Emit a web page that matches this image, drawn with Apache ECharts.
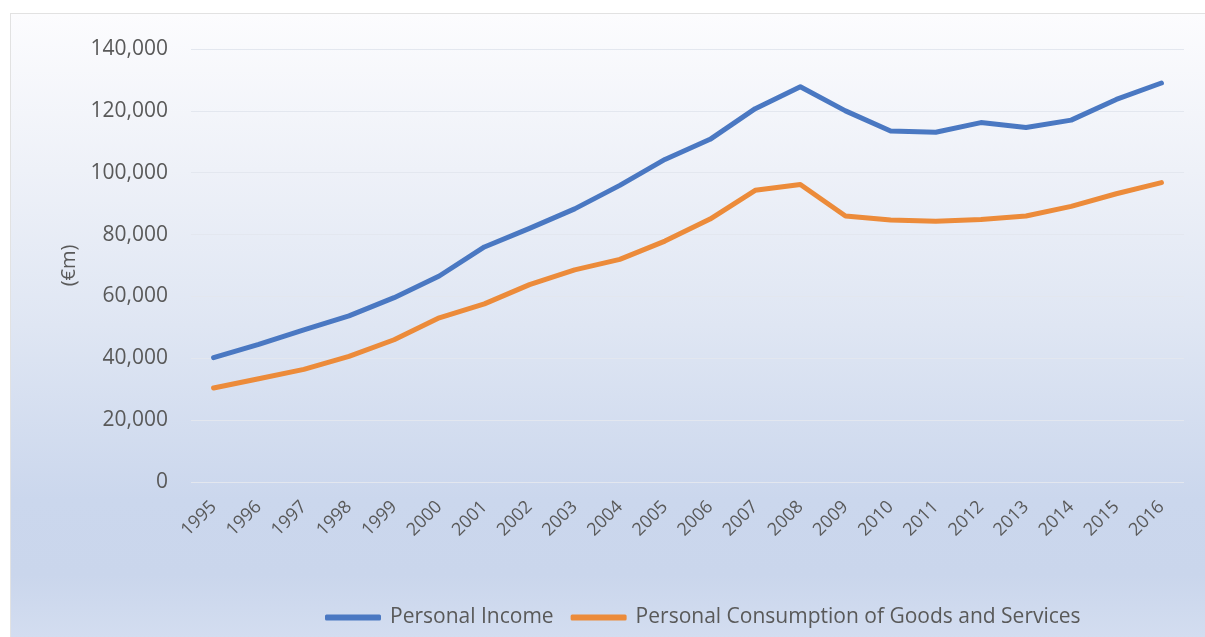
<!DOCTYPE html>
<html>
<head>
<meta charset="utf-8">
<script src="https://cdn.jsdelivr.net/npm/echarts@6/dist/echarts.min.js"></script>
<style>
html,body{margin:0;padding:0;background:#ffffff;width:1205px;height:637px;overflow:hidden;}
#box{position:absolute;left:10px;top:13px;width:1195px;height:624px;
background:linear-gradient(to bottom,#fcfcfe 0%,#eef1f8 25%,#dfe6f3 50%,#cbd7ed 78%,#cad6ec 90%,#d3ddf0 100%);
border-top:1px solid #e2e2e2;border-left:1px solid #e2e2e2;box-sizing:border-box;}
#chart{width:100%;height:100%;}
</style>
</head>
<body>
<div id="box"><div id="chart"></div></div>
<script>
var years = ['1995','1996','1997','1998','1999','2000','2001','2002','2003','2004','2005','2006','2007','2008','2009','2010','2011','2012','2013','2014','2015','2016'];
var personalIncome = [40200,44500,49200,53700,59600,66600,76000,82000,88300,95900,104300,110800,120700,127800,120000,113500,113100,116200,114600,117000,123700,129000];
var personalConsumption = [30400,33400,36400,40600,46000,53100,57600,63800,68600,72000,77900,85000,94300,96200,86000,84700,84300,84900,86000,89100,93200,96800];
var yTicks = [0,20000,40000,60000,80000,100000,120000,140000];
var seriesNames = ['Personal Income','Personal Consumption of Goods and Services'];

var txt = '#595959';
var font = 'Open Sans';
var chart = echarts.init(document.getElementById('chart'));
chart.setOption({
  backgroundColor: 'transparent',
  animation: false,
  textStyle: {fontFamily: font},
  grid: {left: 180, top: 35, width: 993, height: 433, containLabel: false},
  legend: {
    data: seriesNames,
    left: 309, top: 588,
    itemWidth: 56, itemHeight: 6, itemGap: 17,
    icon: 'roundRect',
    textStyle: {color: txt, fontSize: 21, fontFamily: font, padding: [0,0,0,4]}
  },
  xAxis: {
    type: 'category',
    data: years,
    boundaryGap: true,
    axisLine: {show: false},
    axisTick: {show: false},
    axisLabel: {rotate: 45, color: txt, fontSize: 18, margin: 22, interval: 0, fontFamily: font}
  },
  yAxis: {
    type: 'value',
    min: yTicks[0], max: yTicks[yTicks.length-1], interval: 20000,
    name: '(€m)', nameLocation: 'middle', nameRotate: 90, nameGap: 112,
    nameTextStyle: {color: txt, fontSize: 20, fontFamily: font},
    axisLine: {show: false},
    axisTick: {show: false},
    splitLine: {lineStyle: {color: '#e3e7ef', width: 1.2}},
    axisLabel: {color: txt, fontSize: 21, margin: 23, fontFamily: font,
      formatter: function(v){ return v.toLocaleString('en-US'); }}
  },
  series: [
    {name: seriesNames[0], type: 'line', data: personalIncome, showSymbol: false, symbol: 'none',
     lineStyle: {color: '#4A78C2', width: 5, cap: 'round', join: 'round'}, itemStyle: {color: '#4A78C2'}},
    {name: seriesNames[1], type: 'line', data: personalConsumption, showSymbol: false, symbol: 'none',
     lineStyle: {color: '#EC8B3A', width: 5, cap: 'round', join: 'round'}, itemStyle: {color: '#EC8B3A'}}
  ]
});
</script>
</body>
</html>
